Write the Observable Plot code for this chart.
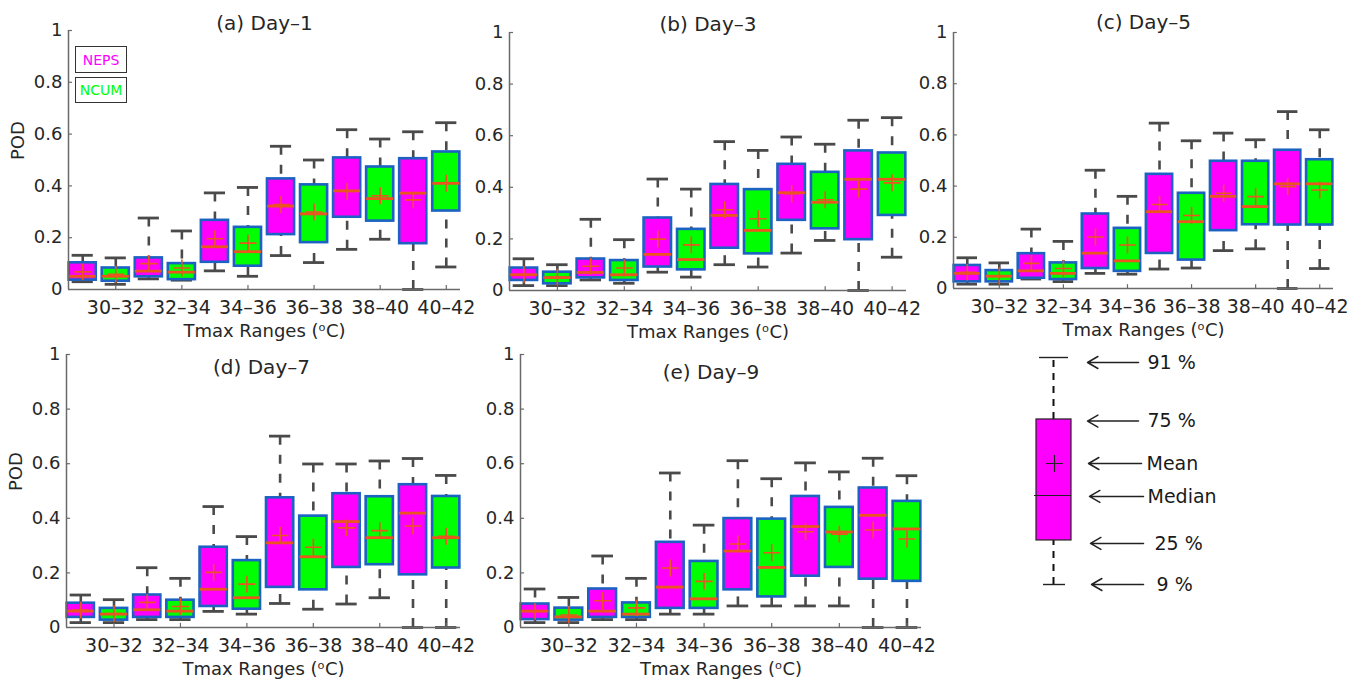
<!DOCTYPE html>
<html>
<head>
<meta charset="utf-8">
<script src="https://cdn.jsdelivr.net/npm/d3@7"></script>
<script src="https://cdn.jsdelivr.net/npm/@observablehq/plot@0.6"></script>
<style>
  html, body { margin: 0; padding: 0; background: #fff; }
  #root { position: relative; width: 1365px; height: 683px; overflow: hidden; font-family: "DejaVu Sans", sans-serif; }
  .pane { position: absolute; }
  .legbox { position: absolute; border: 1.5px solid #333; box-sizing: border-box; font: 14px "DejaVu Sans", sans-serif; display: flex; align-items: center; justify-content: center; background: #fff; }
</style>
</head>
<body>
<div id="root"></div>
<script>
// ---------------- DATA ----------------
const panelTitles = ["(a) Day–1", "(b) Day–3", "(c) Day–5", "(d) Day–7", "(e) Day–9"];
const models = ["NEPS", "NCUM"];
const xTickPositions = [2, 4, 6, 8, 10, 12];
const xTickLabels = ["30–32", "32–34", "34–36", "36–38", "38–40", "40–42"];
const yTicks = [0, 0.2, 0.4, 0.6, 0.8, 1];
const yTickLabels = ["0", "0.2", "0.4", "0.6", "0.8", "1"];
const xLabel = "Tmax Ranges (ᵒC)";
const yLabel = "POD";

// rows: Day-1, Day-3, Day-5, Day-7, Day-9 ; columns: NEPS/NCUM alternating per Tmax range
const p9 = [
  [0.030, 0.020, 0.041, 0.036, 0.072, 0.051, 0.131, 0.104, 0.155, 0.194, 0.000, 0.087],
  [0.019, 0.019, 0.041, 0.028, 0.071, 0.052, 0.100, 0.091, 0.145, 0.194, 0.000, 0.129],
  [0.017, 0.017, 0.037, 0.027, 0.059, 0.056, 0.076, 0.080, 0.148, 0.155, 0.000, 0.078],
  [0.018, 0.018, 0.029, 0.029, 0.059, 0.049, 0.088, 0.067, 0.086, 0.109, 0.000, 0.000],
  [0.018, 0.018, 0.029, 0.029, 0.049, 0.049, 0.079, 0.079, 0.079, 0.079, 0.000, 0.000]
];
const q1 = [
  [0.036, 0.032, 0.049, 0.038, 0.105, 0.090, 0.212, 0.181, 0.279, 0.264, 0.177, 0.303],
  [0.039, 0.026, 0.049, 0.039, 0.091, 0.080, 0.164, 0.142, 0.272, 0.239, 0.197, 0.291],
  [0.026, 0.026, 0.040, 0.035, 0.078, 0.067, 0.137, 0.111, 0.226, 0.249, 0.248, 0.248],
  [0.037, 0.027, 0.037, 0.037, 0.077, 0.067, 0.147, 0.138, 0.220, 0.230, 0.193, 0.218],
  [0.029, 0.027, 0.037, 0.037, 0.070, 0.070, 0.138, 0.112, 0.188, 0.220, 0.177, 0.169]
];
const median = [
  [0.051, 0.051, 0.071, 0.067, 0.165, 0.146, 0.322, 0.292, 0.381, 0.351, 0.372, 0.410],
  [0.061, 0.050, 0.070, 0.061, 0.140, 0.120, 0.291, 0.233, 0.379, 0.342, 0.431, 0.431],
  [0.059, 0.048, 0.069, 0.059, 0.138, 0.108, 0.300, 0.261, 0.360, 0.320, 0.409, 0.409],
  [0.060, 0.049, 0.065, 0.060, 0.140, 0.109, 0.310, 0.259, 0.388, 0.329, 0.419, 0.329],
  [0.060, 0.039, 0.060, 0.049, 0.148, 0.105, 0.280, 0.220, 0.370, 0.350, 0.411, 0.361]
];
const mean = [
  [0.068, 0.059, 0.100, 0.083, 0.196, 0.179, 0.328, 0.299, 0.379, 0.362, 0.346, 0.410],
  [0.062, 0.052, 0.094, 0.087, 0.199, 0.177, 0.313, 0.278, 0.375, 0.352, 0.393, 0.417],
  [0.063, 0.050, 0.098, 0.078, 0.201, 0.170, 0.328, 0.285, 0.372, 0.359, 0.398, 0.385],
  [0.064, 0.051, 0.092, 0.077, 0.202, 0.159, 0.337, 0.294, 0.365, 0.355, 0.372, 0.334],
  [0.059, 0.046, 0.098, 0.072, 0.218, 0.169, 0.306, 0.274, 0.351, 0.342, 0.357, 0.324]
];
const q3 = [
  [0.103, 0.083, 0.122, 0.100, 0.267, 0.240, 0.427, 0.404, 0.508, 0.473, 0.505, 0.531],
  [0.087, 0.071, 0.122, 0.116, 0.281, 0.237, 0.411, 0.391, 0.489, 0.458, 0.541, 0.533],
  [0.090, 0.070, 0.136, 0.100, 0.291, 0.235, 0.446, 0.372, 0.497, 0.497, 0.540, 0.503],
  [0.089, 0.070, 0.119, 0.100, 0.294, 0.245, 0.475, 0.408, 0.490, 0.479, 0.523, 0.480],
  [0.086, 0.071, 0.141, 0.090, 0.312, 0.242, 0.399, 0.397, 0.480, 0.440, 0.511, 0.462]
];
const p91 = [
  [0.132, 0.122, 0.276, 0.226, 0.373, 0.394, 0.553, 0.500, 0.617, 0.581, 0.609, 0.644],
  [0.123, 0.100, 0.276, 0.197, 0.432, 0.393, 0.577, 0.543, 0.595, 0.567, 0.660, 0.670],
  [0.120, 0.100, 0.232, 0.184, 0.462, 0.360, 0.646, 0.577, 0.607, 0.581, 0.691, 0.620],
  [0.119, 0.102, 0.219, 0.180, 0.443, 0.333, 0.701, 0.599, 0.599, 0.610, 0.619, 0.557],
  [0.141, 0.110, 0.262, 0.180, 0.566, 0.375, 0.611, 0.545, 0.603, 0.570, 0.620, 0.556]
];

// key (explanatory box) example
const keyLabels = ["91 %", "75 %", "Mean", "Median", "25 %", "9 %"];
const keyArrowLevels = [0.978, 0.72, 0.533, 0.388, 0.181, 0.0];
const keyBoxStats = [0.0, 0.194, 0.392, 0.533, 0.727, 1.0]; // p9, q1, median, mean, q3, p91

// ---------------- STYLE / LAYOUT ----------------
const modelColors = ["#ff00ff", "#00ff00"];
const boxEdge = "#1b62c2";
const medColor = "#ea5520";
const whiskerColor = "#4a4a4a";
const axisColor = "#6a6a6a";
const textColor = "#262626";
const FONT = "DejaVu Sans, sans-serif";

const layout = [
  {left: 0,   top: 0,   width: 470, height: 340, mt: 30, mb: 51, ml: 68, mr: 10, tdy: -7,  tdx: 0,   pod: true},
  {left: 470, top: 0,   width: 445, height: 340, mt: 32, mb: 50, ml: 39, mr: 9,  tdy: -8,  tdx: 0,   pod: false},
  {left: 915, top: 0,   width: 440, height: 340, mt: 32, mb: 52, ml: 38, mr: 22, tdy: -10, tdx: 0,   pod: false},
  {left: 0,   top: 340, width: 470, height: 343, mt: 14, mb: 56, ml: 66, mr: 10, tdy: 13,  tdx: -2,  pod: true},
  {left: 470, top: 340, width: 460, height: 343, mt: 14, mb: 56, ml: 50, mr: 9,  tdy: 18,  tdx: -10, pod: false}
];
const xDomain = [0.57, 12.43];
const halfBox = 0.41, halfCap = 0.32;

const root = document.getElementById("root");

function makePanel(i) {
  const L = layout[i];
  const rows = d3.range(12).map(j => ({
    pos: j + 1, model: models[j % 2],
    p9: p9[i][j], q1: q1[i][j], median: median[i][j], mean: mean[i][j], q3: q3[i][j], p91: p91[i][j]
  }));
  const marks = [
    Plot.ruleX(rows, {x: "pos", y1: "p91", y2: "q3", stroke: whiskerColor, strokeWidth: 2.6, strokeDasharray: "9,10"}),
    Plot.ruleX(rows, {x: "pos", y1: "p9", y2: "q1", stroke: whiskerColor, strokeWidth: 2.6, strokeDasharray: "9,10"}),
    Plot.ruleY(rows, {y: "p91", x1: d => d.pos - halfCap, x2: d => d.pos + halfCap, stroke: whiskerColor, strokeWidth: 2.8}),
    Plot.ruleY(rows, {y: "p9", x1: d => d.pos - halfCap, x2: d => d.pos + halfCap, stroke: whiskerColor, strokeWidth: 2.8}),
    Plot.rect(rows, {x1: d => d.pos - halfBox, x2: d => d.pos + halfBox, y1: "q1", y2: "q3", fill: "model", stroke: boxEdge, strokeWidth: 2.6}),
    Plot.ruleY(rows, {y: "median", x1: d => d.pos - halfBox, x2: d => d.pos + halfBox, stroke: medColor, strokeWidth: 2.8}),
    Plot.dot(rows, {x: "pos", y: "mean", symbol: "plus", r: 5.5, stroke: medColor, strokeWidth: 1.6}),
    Plot.ruleX([xDomain[0]], {y1: 0, y2: 1, stroke: axisColor, strokeWidth: 1.5}),
    Plot.ruleY([0], {x1: xDomain[0], x2: xDomain[1], stroke: axisColor, strokeWidth: 1.5}),
    Plot.ruleY(yTicks.slice(1), {x1: xDomain[0], x2: xDomain[0] + 0.12, stroke: axisColor, strokeWidth: 1.2}),
    Plot.ruleX(xTickPositions, {y1: 0, y2: 0.015, stroke: axisColor, strokeWidth: 1.2}),
    Plot.axisY(yTicks, {tickSize: 0, tickPadding: 6, tickFormat: d => yTickLabels[yTicks.indexOf(d)], fontSize: 18, label: null, fill: textColor}),
    Plot.axisX(xTickPositions, {tickSize: 0, tickPadding: 11, tickFormat: d => xTickLabels[xTickPositions.indexOf(d)], fontSize: 19, label: null, fill: textColor}),
    Plot.text([panelTitles[i]], {text: d => d, frameAnchor: "top", lineAnchor: "middle", dy: L.tdy, dx: L.tdx, fontSize: 20, fill: textColor}),
    Plot.text([xLabel], {text: d => d, frameAnchor: "bottom", lineAnchor: "middle", dy: 42, fontSize: 18, fill: textColor})
  ];
  if (L.pod) marks.push(Plot.text([yLabel], {text: d => d, frameAnchor: "left", lineAnchor: "middle", rotate: -90, dx: -50, fontSize: 18, fill: textColor}));
  const chart = Plot.plot({
    width: L.width, height: L.height,
    marginTop: L.mt, marginBottom: L.mb, marginLeft: L.ml, marginRight: L.mr,
    x: {domain: xDomain},
    y: {domain: [0, 1]},
    color: {domain: models, range: modelColors},
    style: {fontFamily: FONT, fontSize: "18px", color: textColor, background: "transparent", overflow: "visible"},
    marks
  });
  const wrap = document.createElement("div");
  wrap.className = "pane";
  wrap.style.left = L.left + "px";
  wrap.style.top = L.top + "px";
  wrap.appendChild(chart);
  root.appendChild(wrap);
}

for (let i = 0; i < 5; i++) makePanel(i);

// legend boxes in panel (a)
const legendPos = [{left: 75, top: 46, w: 52, h: 27}, {left: 75, top: 77, w: 52, h: 26}];
models.forEach((m, k) => {
  const d = document.createElement("div");
  d.className = "legbox";
  d.style.left = legendPos[k].left + "px";
  d.style.top = legendPos[k].top + "px";
  d.style.width = legendPos[k].w + "px";
  d.style.height = legendPos[k].h + "px";
  d.style.color = modelColors[k];
  d.textContent = m;
  root.appendChild(d);
});

// key diagram
(function makeKey() {
  const K = {left: 960, top: 340, width: 300, height: 280, mt: 17, mb: 36};
  const [kp9, kq1, kmed, kmean, kq3, kp91] = keyBoxStats;
  const cx = 93, boxX1 = 76, boxX2 = 111;
  const arrowFrom = [178, 178, 181, 183, 183, 183];
  const arrowTo = [127, 127, 128, 129, 130, 131];
  const textX = [187, 187, 186, 187, 194, 196];
  const items = keyLabels.map((t, k) => ({t, y: keyArrowLevels[k], x1: arrowFrom[k], x2: arrowTo[k], tx: textX[k]}));
  const chart = Plot.plot({
    width: K.width, height: K.height,
    marginTop: K.mt, marginBottom: K.mb, marginLeft: 0, marginRight: 0,
    x: {domain: [0, K.width], axis: null},
    y: {domain: [0, 1], axis: null},
    style: {fontFamily: FONT, background: "transparent", overflow: "visible"},
    marks: [
      Plot.ruleX([cx], {y1: kq3, y2: kp91, stroke: "#111", strokeWidth: 2, strokeDasharray: "7,6"}),
      Plot.ruleX([cx], {y1: kp9, y2: kq1, stroke: "#111", strokeWidth: 2, strokeDasharray: "7,6"}),
      Plot.ruleY([kp91], {x1: 79, x2: 108, stroke: "#222", strokeWidth: 1.4}),
      Plot.ruleY([kp9], {x1: 83, x2: 105, stroke: "#222", strokeWidth: 1.4}),
      Plot.rect([0], {x1: boxX1, x2: boxX2, y1: kq1, y2: kq3, fill: modelColors[0], stroke: "#222", strokeWidth: 1.2}),
      Plot.ruleY([kmed], {x1: boxX1 - 2, x2: boxX2, stroke: "#222", strokeWidth: 1.2}),
      Plot.dot([kmean], {x: cx + 1, y: d => d, symbol: "plus", r: 5.5, stroke: "#222", strokeWidth: 1.1}),
      Plot.arrow(items, {x1: "x1", x2: "x2", y1: "y", y2: "y", stroke: "#222", strokeWidth: 1.5, headLength: 12}),
      Plot.text(items, {x: "tx", y: "y", text: "t", textAnchor: "start", fontSize: 19, fill: "#1a1a1a"})
    ]
  });
  const wrap = document.createElement("div");
  wrap.className = "pane";
  wrap.style.left = K.left + "px";
  wrap.style.top = K.top + "px";
  wrap.appendChild(chart);
  root.appendChild(wrap);
})();
</script>
</body>
</html>
